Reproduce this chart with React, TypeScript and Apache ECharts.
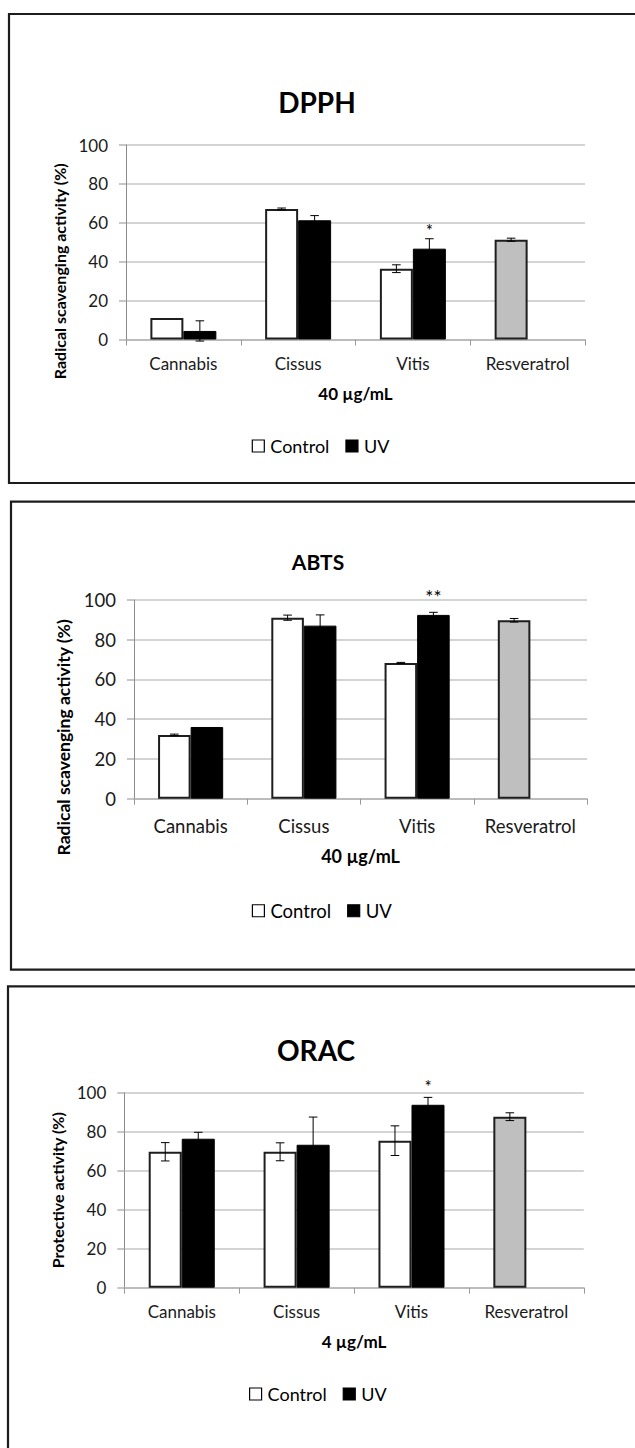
import React, { useEffect, useRef } from "react";
import * as echarts from "echarts";

// ---------- data ----------
const categories = ["Cannabis", "Cissus", "Vitis", "Resveratrol"];
const seriesNames = ["Control", "UV"];

const dpphControl = [11.1, 67.1, 36.4, 51.3];
const dpphControlErr = [0, 0.5, 2.0, 0.8];
const dpphUV = [4.4, 61.3, 46.7, null];
const dpphUVErr = [5.2, 2.4, 5.1, null];
const dpphSig = ["", "", "*", ""];

const abtsControl = [32.1, 91.1, 68.3, 89.8];
const abtsControlErr = [0.4, 1.3, 0.3, 0.9];
const abtsUV = [36.1, 87.1, 92.5, null];
const abtsUVErr = [0, 5.4, 1.3, null];
const abtsSig = ["", "", "**", ""];

const oracControl = [69.7, 69.7, 75.4, 87.7];
const oracControlErr = [4.7, 4.6, 7.6, 2.0];
const oracUV = [76.4, 73.3, 93.8, null];
const oracUVErr = [3.3, 14.2, 3.8, null];
const oracSig = ["", "", "*", ""];

const yTicks = { min: 0, max: 100, interval: 20 };

const panelsData = [
  { title: "DPPH", yName: "Radical scavenging activity (%)", xName: "40 µg/mL", control: dpphControl, controlErr: dpphControlErr, uv: dpphUV, uvErr: dpphUVErr, sig: dpphSig },
  { title: "ABTS", yName: "Radical scavenging activity (%)", xName: "40 µg/mL", control: abtsControl, controlErr: abtsControlErr, uv: abtsUV, uvErr: abtsUVErr, sig: abtsSig },
  { title: "ORAC", yName: "Protective activity (%)", xName: "4 µg/mL", control: oracControl, controlErr: oracControlErr, uv: oracUV, uvErr: oracUVErr, sig: oracSig },
];

// ---------- layout (positions / styles) ----------
const layouts = [
  { box: { x: 9, y: 14, h: 469 }, titleCx: 317, titleCy: 101.7, titleSize: 28, grid: { left: 126, top: 145, width: 459, height: 194.5 }, fs: 17, yNameSize: 16, yNameGap: 55, yNameShift: 29, xNameSize: 17, xNameGap: 45, catMargin: 15, legendLeft: 251.7, legendCy: 446, legendSize: 18, starSize: 17, starDist: 0 },
  { box: { x: 11, y: 501.7, h: 468 }, titleCx: 318, titleCy: 561, titleSize: 21, grid: { left: 134, top: 600, width: 453, height: 198.7 }, fs: 18.5, yNameSize: 17.5, yNameGap: 58, yNameShift: 38, xNameSize: 18, xNameGap: 48, catMargin: 18, legendLeft: 251.8, legendCy: 910.5, legendSize: 18.5, starSize: 19, starDist: 6 },
  { box: { x: 8, y: 986.3, h: 700 }, titleCx: 316, titleCy: 1050, titleSize: 28, grid: { left: 124.3, top: 1092.7, width: 459.5, height: 195 }, fs: 17, yNameSize: 16, yNameGap: 54, yNameShift: 0, xNameSize: 17, xNameGap: 45, catMargin: 15, legendLeft: 249, legendCy: 1394, legendSize: 18, starSize: 17, starDist: 2 },
];

const CAT_GAP = 0.425;
const FONT = "Lato";

function buildOption() {
  const title: any[] = [];
  const grid: any[] = [];
  const xAxis: any[] = [];
  const yAxis: any[] = [];
  const legend: any[] = [];
  const series: any[] = [];
  const graphic: any[] = [];

  panelsData.forEach((p, k) => {
    const L = layouts[k];
    graphic.push({
      type: "rect",
      shape: { x: L.box.x, y: L.box.y, width: 700, height: L.box.h },
      style: { fill: "none", stroke: "#1c1c1c", lineWidth: 2.2 },
      silent: true,
    });
    title.push({
      text: p.title,
      left: L.titleCx,
      top: L.titleCy - L.titleSize / 2,
      textAlign: "center",
      padding: 0,
      textStyle: { fontFamily: FONT, fontWeight: "bold", fontSize: L.titleSize, color: "#000" },
    });
    grid.push({ ...L.grid });
    xAxis.push({
      type: "category",
      gridIndex: k,
      data: categories,
      name: p.xName,
      nameLocation: "middle",
      nameGap: L.xNameGap,
      nameTextStyle: { fontFamily: FONT, fontWeight: "bold", fontSize: L.xNameSize, color: "#000" },
      axisLine: { show: true, lineStyle: { color: "#b4b4b4", width: 1.5 } },
      axisTick: { show: true, length: 6, interval: 0, lineStyle: { color: "#9a9a9a", width: 1 } },
      axisLabel: { interval: 0, margin: L.catMargin, fontFamily: FONT, fontSize: L.fs, color: "#1a1a1a" },
      splitLine: { show: false },
    });
    yAxis.push({
      type: "value",
      gridIndex: k,
      min: yTicks.min,
      max: yTicks.max,
      interval: yTicks.interval,
      name: p.yName,
      nameLocation: "middle",
      nameRotate: 90,
      nameGap: L.yNameGap,
      nameTextStyle: {
        fontFamily: FONT,
        fontWeight: "bold",
        fontSize: L.yNameSize,
        color: "#000",
        padding: [0, L.yNameShift * 2, 0, 0],
      },
      axisLine: { show: true, lineStyle: { color: "#8c8c8c", width: 1 } },
      axisTick: { show: true, length: 7, lineStyle: { color: "#b4b4b4", width: 1.5 } },
      axisLabel: { margin: 18, fontFamily: FONT, fontSize: L.fs, color: "#1a1a1a" },
      splitLine: { show: true, lineStyle: { color: "#c6c6c6", width: 1.5 } },
    });
    legend.push({
      left: L.legendLeft,
      top: L.legendCy - L.legendSize / 2,
      padding: 0,
      itemGap: 16,
      itemWidth: 12,
      itemHeight: 12,
      icon: "rect",
      textStyle: { fontFamily: FONT, fontSize: L.legendSize, color: "#000", padding: [0, 0, 0, 1] },
      data: [
        { name: `${seriesNames[0]}#${k}`, itemStyle: { color: "#fff", borderColor: "#000", borderWidth: 1.2 } },
        { name: `${seriesNames[1]}#${k}`, itemStyle: { color: "#000", borderColor: "#000", borderWidth: 1.2 } },
      ],
      formatter: (n: string) => n.split("#")[0],
    });

    const controlData = p.control.map((v, i) =>
      categories[i] === "Resveratrol"
        ? { value: v, itemStyle: { color: "#bfbfbf", borderColor: "#1e1e1e", borderWidth: 2 } }
        : v
    );
    series.push({
      type: "bar",
      name: `${seriesNames[0]}#${k}`,
      xAxisIndex: k,
      yAxisIndex: k,
      data: controlData,
      barGap: "0%",
      barCategoryGap: `${CAT_GAP * 100}%`,
      itemStyle: { color: "#fff", borderColor: "#1e1e1e", borderWidth: 2 },
      z: 2,
    });
    series.push({
      type: "bar",
      name: `${seriesNames[1]}#${k}`,
      xAxisIndex: k,
      yAxisIndex: k,
      data: p.uv.map((v) => (v == null ? "-" : v)),
      barGap: "0%",
      barCategoryGap: `${CAT_GAP * 100}%`,
      itemStyle: { color: "#000", borderColor: "#000", borderWidth: 1 },
      z: 2,
    });

    const errData: any[] = [];
    p.control.forEach((v, i) => {
      const e = p.controlErr[i];
      if (v != null && e) errData.push([i, v, e, -1]);
    });
    p.uv.forEach((v, i) => {
      const e = p.uvErr[i];
      if (v != null && e) errData.push([i, v, e, 1]);
    });
    series.push({
      type: "custom",
      xAxisIndex: k,
      yAxisIndex: k,
      data: errData,
      encode: { x: 0, y: 1 },
      z: 5,
      silent: true,
      renderItem: (params: any, api: any) => {
        const idx = api.value(0);
        const val = api.value(1);
        const err = api.value(2);
        const side = api.value(3);
        const catW = api.size([1, 0])[0];
        const barW = (catW * (1 - CAT_GAP)) / 2;
        const cx = api.coord([idx, val])[0] + (side * barW) / 2;
        const yT = api.coord([idx, val + err])[1];
        const yB = api.coord([idx, val - err])[1];
        const cap = 4.3;
        const st = { stroke: "#000", lineWidth: 1 };
        return {
          type: "group",
          children: [
            { type: "line", shape: { x1: cx, y1: yT, x2: cx, y2: yB }, style: st },
            { type: "line", shape: { x1: cx - cap, y1: yT, x2: cx + cap, y2: yT }, style: st },
            { type: "line", shape: { x1: cx - cap, y1: yB, x2: cx + cap, y2: yB }, style: st },
          ],
        };
      },
    });

    // significance markers above the UV bars
    const sigData: any[] = [];
    p.sig.forEach((s, i) => {
      if (s && p.uv[i] != null) sigData.push({ value: [i, (p.uv[i] as number) + ((p.uvErr[i] as number) || 0)], sig: s });
    });
    series.push({
      type: "custom",
      xAxisIndex: k,
      yAxisIndex: k,
      data: sigData,
      z: 6,
      silent: true,
      renderItem: (params: any, api: any) => {
        const idx = api.value(0);
        const top = api.value(1);
        const catW = api.size([1, 0])[0];
        const barW = (catW * (1 - CAT_GAP)) / 2;
        const pt = api.coord([idx, top]);
        const s = sigData[params.dataIndex].sig;
        return {
          type: "text",
          x: pt[0] + barW / 2,
          y: pt[1] - L.starDist,
          style: {
            text: s,
            fontFamily: FONT,
            fontSize: L.starSize,
            fill: "#000",
            align: "center",
            verticalAlign: "bottom",
          },
        };
      },
    });
  });

  return {
    animation: false,
    backgroundColor: "#fff",
    textStyle: { fontFamily: FONT },
    title,
    grid,
    xAxis,
    yAxis,
    legend,
    series,
    graphic,
  };
}

export default function App() {
  const ref = useRef<HTMLDivElement>(null);
  useEffect(() => {
    document.body.style.margin = "0";
    const chart = echarts.init(ref.current!, null, { renderer: "svg" });
    chart.setOption(buildOption() as any);
    return () => chart.dispose();
  }, []);
  return <div ref={ref} style={{ width: 635, height: 1448, background: "#fff" }} />;
}
